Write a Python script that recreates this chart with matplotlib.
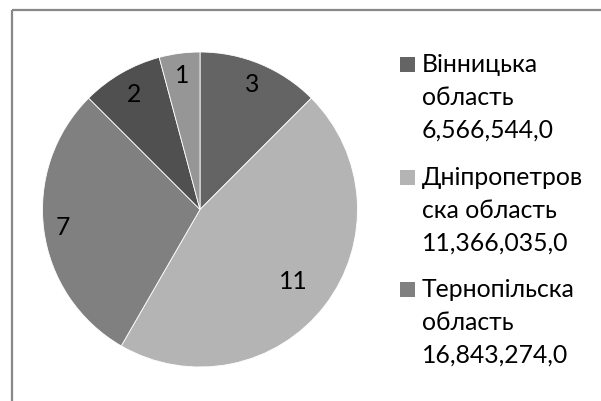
import matplotlib
matplotlib.use("Agg")
import matplotlib.pyplot as plt
from matplotlib.patches import Rectangle
import numpy as np

# data
slice_values = [3, 11, 7, 2, 1]
slice_labels = ["3", "11", "7", "2", "1"]
slice_colors = ["#646464", "#b4b4b4", "#808080", "#505050", "#969696"]
legend_lines = [
    ["Вінницька", "область", "6,566,544,0"],
    ["Дніпропетров", "ска область", "11,366,035,0"],
    ["Тернопільска", "область", "16,843,274,0"],
]
legend_colors = ["#646464", "#b4b4b4", "#808080"]

W, H = 601, 401
FS = 17.8
FONT = "Lato"

fig = plt.figure(figsize=(W / 100, H / 100), dpi=100)
fig.patch.set_facecolor("white")

# outer frame
fig.patches.append(Rectangle((12 / W, 1 - 10 / H), 2, -2, transform=fig.transFigure,
                             fill=False, edgecolor="#888888", linewidth=1.6))

cx, cy, R = 200, 209.5, 157.5
ax = fig.add_axes([(cx - R) / W, (H - cy - R) / H, 2 * R / W, 2 * R / H])
wedges, _ = ax.pie(slice_values, colors=slice_colors, startangle=90, counterclock=False,
                   radius=1, wedgeprops=dict(edgecolor="white", linewidth=0.6))
ax.set_xlim(-1, 1)
ax.set_ylim(-1, 1)
ax.set_aspect("equal")
ax.axis("off")

label_r = [0.86, 0.75, 0.88, 0.84, 0.86]
for w, lab, r in zip(wedges, slice_labels, label_r):
    ang = np.deg2rad((w.theta1 + w.theta2) / 2)
    ax.text(r * np.cos(ang), r * np.sin(ang), lab, ha="center", va="center",
            fontsize=FS, family=FONT, color="black")

# legend
base0 = 72
line_pitch = 33
entry_pitch = 112.5
for i, (lines, col) in enumerate(zip(legend_lines, legend_colors)):
    b = base0 + i * entry_pitch
    fig.patches.append(Rectangle((400 / W, 1 - b / H), 15 / W, 15 / H,
                                 transform=fig.transFigure, facecolor=col, edgecolor="none"))
    for k, t in enumerate(lines):
        fig.text(422 / W, 1 - (b + k * line_pitch) / H, t, ha="left", va="baseline",
                 fontsize=FS, family=FONT, color="black")

fig.savefig("out.png", dpi=100)
